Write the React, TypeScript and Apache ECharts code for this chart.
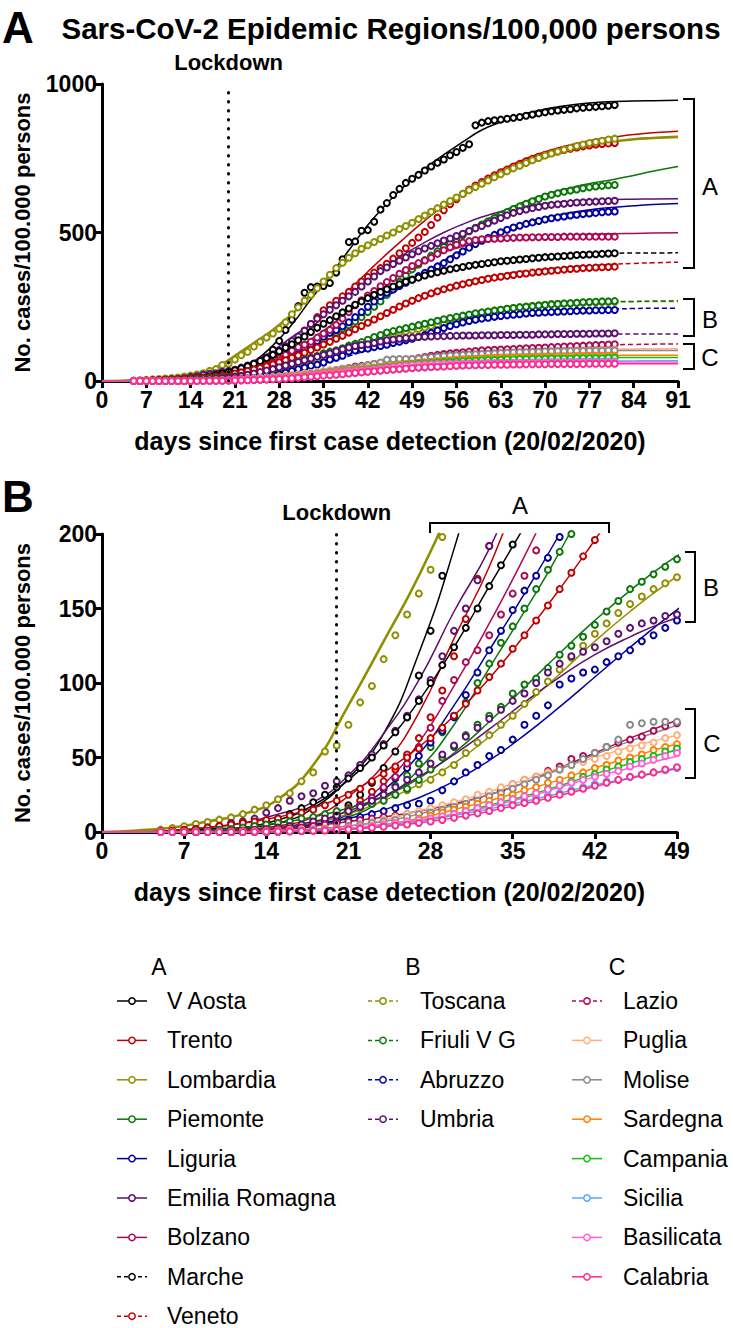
import React, { useEffect, useRef } from "react";
import * as echarts from "echarts";

// ---------- data ----------
const DAYS = [
  5, 6, 7, 8, 9, 10, 11, 12, 13, 14,
  15, 16, 17, 18, 19, 20, 21, 22, 23, 24,
  25, 26, 27, 28, 29, 30, 31, 32, 33, 34,
  35, 36, 37, 38, 39, 40, 41, 42, 43, 44,
  45, 46, 47, 48, 49, 50, 51, 52, 53, 54,
  55, 56, 57, 58, 59, 60, 61, 62, 63, 64,
  65, 66, 67, 68, 69, 70, 71, 72, 73, 74,
  75, 76, 77, 78, 79, 80, 81,
];
const FIT_DAYS = [0, 3, 6, 9, 12, 15, 18, 21, 24, 27, 30, 33, 36, 39, 42, 45, 48, 51, 54, 57, 60, 63, 66, 69, 72, 75, 78, 81, 84, 87, 91];

const X_TICKS_A = { min: 0, max: 91, step: 7 };
const X_TICKS_B = { min: 0, max: 49, step: 7 };
const Y_TICKS_A = { min: 0, max: 1000, step: 500 };
const Y_TICKS_B = { min: 0, max: 200, step: 50 };
const LOCKDOWN_DAY = 20;

const vAostaPts = [0,0,0,0,0,0,0,0,0,0, 0,1,2,4,7,12,18,25,33,43, 54,77,105,135,172,206,252,297,316,318, 320,330,365,410,468,470,506,508,536,577, 599,626,647,667,681,694,709,722,735,746, 760,771,785,797,861,870,875,878,880,883, 886,889,893,897,901,905,908,911,913,915, 918,920,922,923,925,927,929];
const vAostaFit = [0,0,1,2,3,6,16,36,66,120,190,275,355,440,525,598,660,715,762,805,845,872,895,911,923,932,938,941,943,944,945];

const trentoPts = [0,0,0,0,0,0,0,0,0,0, 1,2,3,5,8,12,16,21,27,34, 42,52,63,77,95,118,143,170,192,215, 238,255,270,285,300,318,335,350,365,380, 395,412,430,447,465,483,502,525,550,575, 595,612,630,645,658,670,682,693,703,712, 722,731,740,748,755,762,768,773,778,782, 786,790,793,796,798,800,801];
const trentoFit = [0,0,0,1,2,4,10,24,45,80,130,178,240,305,368,428,485,540,590,635,675,710,740,765,785,800,813,822,830,836,841];

const lombardiaPts = [1.6,2.7,3.8,5.4,6.7,8.3,9.8,12,15,18, 22,26,34,40,54,58,72,87,98,116, 132,146,160,176,198,225,248,270,290,312, 335,358,380,398,415,430,445,457,468,478, 490,500,512,522,533,545,557,570,582,594, 606,618,630,642,653,664,675,686,696,706, 716,725,734,743,751,759,766,773,779,785, 791,796,801,805,809,813,816];
const lombardiaFit = [0,1,3,7,12,22,45,85,128,172,225,290,355,410,455,492,525,560,595,630,662,692,720,745,766,783,797,807,814,818,822];

const piemontePts = [0,0,0,0,0,0,0,0,0,0.5, 1,2,3,5,7,9,12,16,20,25, 31,38,46,57,67,78,87,100,113,127, 138,150,163,176,188,200,215,232,250,268, 290,312,334,355,376,392,407,422,437,451, 465,478,491,504,516,527,538,549,559,569, 579,588,597,605,613,621,627,632,637,641, 645,649,652,655,657,659,660];
const piemonteFit = [0,0,0,0,1,1,4,10,22,42,72,110,148,188,235,292,350,403,452,496,535,568,597,621,640,656,668,679,692,706,722];

const liguriaPts = [0,0,0,0,0,0,0,0,0,0.5, 1,2,3,5,7,10,14,18,23,29, 36,43,51,60,68,77,92,107,122,135, 149,162,172,184,198,215,232,250,268,286, 297,308,320,331,342,353,364,375,386,397, 410,423,436,449,461,472,482,492,501,509, 517,523,529,534,539,544,548,551,554,557, 560,562,564,566,568,570,571];
const liguriaFit = [0,0,0,0,0,1,4,12,28,52,85,122,160,200,243,285,325,365,405,442,475,503,527,545,559,570,579,585,590,594,598];

const emiliaPts = [0,0.5,1,2,3,4,6,7,9,13, 16,21,24,26,31,34,38,45,52,59, 68,78,89,102,118,135,150,169,192,210, 225,240,255,270,285,300,318,335,352,370, 382,394,405,416,427,437,446,455,464,473, 480,488,496,505,514,522,531,540,549,558, 566,572,577,582,586,590,593,595,597,599, 601,602,603,604,605,606,607];
const emiliaFit = [0,0,1,3,6,12,20,38,66,102,148,190,245,298,345,390,430,467,500,528,552,571,585,595,601,606,609,611,612,613,614];

const bolzanoPts = [0,0,0,0,0,0,0,0,0.5,1, 2,3,4,6,8,11,14,18,23,30, 37,46,57,70,88,102,114,122,132,146, 160,172,189,210,232,255,272,288,303,319, 333,347,361,374,387,397,406,415,428,440, 450,459,466,471,475,477,478,479,480,481, 482,483,483,484,484,485,485,485,486,486, 486,486,486,486,486,486,486];
const bolzanoFit = [0,0,0,0,1,2,6,15,32,60,98,140,185,234,285,333,373,406,433,453,467,477,484,488,491,493,495,496,497,498,499];

const marchePts = [0,0,0,0,0.5,1,2,3,5,7, 9,12,16,20,25,30,36,43,50,58, 67,77,88,100,112,124,137,150,165,179, 193,205,218,231,244,257,268,279,290,300, 309,318,326,334,341,348,355,361,366,371, 376,380,384,388,391,394,397,400,403,405, 407,409,411,413,415,417,418,419,421,422, 424,425,426,427,428,429,430];
const marcheFit = [0,0,0,1,3,8,18,35,58,88,124,165,205,245,282,314,340,361,377,390,400,408,414,419,423,426,428,430,431,431,432];

const venetoPts = [0.5,1,1.5,2,3,4,5,6,7,8, 9,11,13,15,18,21,25,29,34,39, 44,50,56,63,70,78,86,95,104,113, 123,132,142,152,163,174,185,196,207,218, 229,240,251,261,270,279,287,295,302,309, 315,321,326,331,336,340,344,348,351,354, 357,360,362,365,367,369,371,373,375,377, 378,380,381,382,383,384,385];
const venetoFit = [0,0,1,3,6,10,16,26,40,57,78,103,132,163,196,230,262,290,313,332,347,359,368,375,381,386,390,393,396,398,400];

const toscanaPts = [0,0,0,0,0,0.3,0.5,1,1.5,2, 3,4,5,7,9,11,13,16,19,22, 25,28,32,35,40,45,53,60,65,72, 78,86,94,101,109,117,125,133,140,147, 153,158,163,167,171,175,180,185,190,195, 200,206,212,218,224,229,233,237,240,243, 246,249,251,253,255,257,259,260,261,262, 263,264,265,265,266,266,267];
const toscanaFit = [0,0,0,0,1,3,6,12,21,32,46,64,85,106,128,148,166,182,197,212,225,236,245,252,257,261,264,266,267,268,268];

const friuliPts = [0,0,0,0.5,1,1.5,2,3,4,5, 6,7,9,10,12,14,15,17,19,21, 25,29,35,42,50,57,65,72,78,84, 93,99,103,110,119,125,131,139,148,155, 163,168,173,178,183,188,193,198,203,208, 212,216,220,224,228,231,234,237,240,243, 246,248,250,252,254,256,258,259,261,262, 263,265,266,267,268,268,269];
const friuliFit = [0,0,0,1,3,6,10,16,24,36,53,74,97,120,142,162,180,195,208,220,230,239,247,253,258,262,265,267,268,269,270];

const abruzzoPts = [0,0,0,0,0,0.2,0.4,0.6,1,1.5, 2,3,4,5,6,7,8,10,12,14, 16,18,19,21,28,34,40,45,51,55, 62,72,78,85,99,103,107,109,114,118, 122,128,132,137,142,148,155,162,170,178, 185,191,197,202,206,210,213,216,219,221, 223,225,227,229,230,231,232,233,234,235, 236,237,237,238,238,239,239];
const abruzzoFit = [0,0,0,0,1,2,5,9,15,23,34,48,65,84,104,124,143,161,178,193,206,217,226,232,237,240,242,243,244,245,245];

const umbriaPts = [0,0,0,0,0,0.2,0.5,1,1.5,2, 3,4,5,7,9,11,14,17,21,25, 30,35,40,46,52,58,64,70,76,82, 88,93,100,107,113,118,121,124,128,133, 137,140,142,145,146,148,149,150,151,151, 152,152,153,153,153,154,154,154,155,155, 155,156,156,156,157,157,157,158,158,158, 159,159,159,160,160,160,161];
const umbriaFit = [0,0,0,0,1,3,7,14,24,37,52,69,87,104,119,131,141,148,152,155,156,157,157,158,158,158,158,158,158,158,158];

const lazioPts = [0.1,0.1,0.1,0.1,0.2,0.3,0.5,0.8,1.2,1.6, 2,2.5,3,4,5,6,7,8,9,10, 11,12,13,14,15,17,20,23,26,28, 32,35,37,41,44,49,51,53,57,60, 62,64,68,71,73,77,81,85,88,91, 93,95,97,99,101,103,104,105,106,107, 108,109,110,111,112,113,114,115,116,117, 118,119,120,121,122,123,124];
const lazioFit = [0,0,0,0,1,2,4,7,10,14,19,25,33,43,53,63,72,81,89,96,102,106,110,113,116,118,120,122,123,124,125];

const pugliaPts = [0,0,0,0,0,0.1,0.2,0.3,0.5,0.7, 1,1.3,1.7,2.1,2.5,3,4,5,6.5,8, 10,12,14,16,18,20,22,25,27,30, 32,35,37,40,42,45,47,49,51,54, 56,58,60,63,65,67,69,72,74,76, 78,80,82,84,86,87,89,90,91,93, 94,95,96,97,98,99,100,101,101,102, 103,103,104,104,105,105,106];
const pugliaFit = [0,0,0,0,0,1,2,4,8,14,20,27,35,43,50,57,63,69,76,82,87,91,95,98,101,103,105,107,108,109,109];

const molisePts = [0,0,0,0,0,0,0,0,0,0, 0.3,0.6,1,1.5,2,3,4,5,6,7, 8,10,12,13,15,17,19,21,24,26, 29,32,35,38,42,45,49,53,57,62, 72,73,74,74,74,76,78,80,82,84, 86,87,88,89,90,91,92,93,94,95, 96,97,97,98,98,99,99,100,100,101, 101,101,102,102,102,103,103];
const moliseFit = [0,0,0,0,0,0.5,2,4,7,12,18,25,33,42,52,61,69,77,84,89,93,96,98,100,101,102,103,103,103,103,103];

const sardegnaPts = [0,0,0,0,0,0,0,0,0.1,0.2, 0.4,0.6,0.9,1.2,1.6,2,2.5,3,4,5, 6,7,9,11,13,15,17,19,21,23, 25,28,30,33,35,38,40,43,45,48, 50,52,55,57,59,61,63,65,67,68, 70,71,73,74,75,76,77,78,79,79, 80,80,81,81,82,82,82,83,83,83, 84,84,84,84,85,85,85];
const sardegnaFit = [0,0,0,0,0,0.5,1,2.5,5,9,15,21,28,35,43,50,57,63,68,73,76,79,81,83,84,85,86,86,87,87,87];

const campaniaPts = [0,0,0,0,0,0,0,0.1,0.2,0.3, 0.4,0.5,0.7,1,1.3,1.7,2.2,2.8,3.5,4.3, 5,6,7,8.5,10,12,14,16,18,20, 22,24,26,29,31,34,37,39,42,44, 47,49,51,54,56,58,59,61,62,64, 65,66,67,68,69,70,71,71,72,73, 73,74,74,75,75,75,76,76,76,76, 77,77,77,77,77,78,78];
const campaniaFit = [0,0,0,0,0,0.4,1,2.3,4.5,7.5,12,18,24,31,39,46,53,59,64,68,71,73,75,76,77,78,78,79,79,79,79];

const siciliaPts = [0,0,0,0,0,0,0,0.1,0.2,0.3, 0.4,0.6,0.8,1,1.3,1.7,2.2,2.8,3.5,4.2, 5,6,7,8,9.5,11,12.5,14,16,17.5, 19,21,23,24.5,26,28,30,32,34,35, 37,38.5,40,41.5,43,44.5,46,47,48.5,50, 51,52,53,54,55,56,57,58,58.5,59, 60,60.5,61,61.5,62,62.5,63,63,63.5,64, 64,64.5,65,65,65,65.5,66];
const siciliaFit = [0,0,0,0,0,0.4,1,2,4,7,11,15.5,20.5,26,31.5,36.5,41.5,46,50,53.5,56.5,59,61,62.5,64,65,66,67,67.5,68,68];

const basilicataPts = [0,0,0,0,0,0,0,0,0,0.2, 0.3,0.5,0.7,1,1.4,2,2.6,3.3,4,5, 6,7,8,9,10.5,12,14,16,18,20, 22,24,26,28.5,31,33,35,37,39,41, 44,46,48.5,51,53,54,55,56,57,57.5, 58,58.5,59,59.5,60,60,60.5,60.5,61,61, 61,61.5,61.5,62,62,62,62,62.5,62.5,62.5, 63,63,63,63,63,63,63];
const basilicataFit = [0,0,0,0,0,0.3,1,2.6,5,8,12,17,23,30,37,43,49,54,57,59.5,61,62,62.5,63,63.5,63.5,64,64,64,64,64];

const calabriaPts = [0,0,0,0,0,0,0,0,0.1,0.2, 0.3,0.4,0.6,0.8,1,1.3,1.7,2.2,2.8,3.5, 4.3,5,6,7,8,9.5,11,12.5,14,16, 18,19.5,21,23,25,27,29,31,33,35, 37,38.5,40,42,43.5,45,46,47,48,49, 50,51,52,52.5,53,53.5,54,54.5,55,55, 55.5,55.5,56,56,56.5,56.5,57,57,57,57.5, 57.5,57.5,58,58,58,58,58];
const calabriaFit = [0,0,0,0,0,0.3,0.8,1.8,3.5,6,9.5,14,19,24.5,30.5,36,41,45.5,49,52,54,55.5,56.5,57,57.5,58,58,58,58,58,58];

const REGIONS = [
  { name: "V Aosta", group: "A", color: "#000000", dashed: false, pts: vAostaPts, fit: vAostaFit },
  { name: "Trento", group: "A", color: "#c00000", dashed: false, pts: trentoPts, fit: trentoFit },
  { name: "Lombardia", group: "A", color: "#8f8f00", dashed: false, pts: lombardiaPts, fit: lombardiaFit },
  { name: "Piemonte", group: "A", color: "#0a770a", dashed: false, pts: piemontePts, fit: piemonteFit },
  { name: "Liguria", group: "A", color: "#0000a0", dashed: false, pts: liguriaPts, fit: liguriaFit },
  { name: "Emilia Romagna", group: "A", color: "#5c1070", dashed: false, pts: emiliaPts, fit: emiliaFit },
  { name: "Bolzano", group: "A", color: "#ad0a55", dashed: false, pts: bolzanoPts, fit: bolzanoFit },
  { name: "Marche", group: "A", color: "#000000", dashed: true, pts: marchePts, fit: marcheFit },
  { name: "Veneto", group: "A", color: "#c00000", dashed: true, pts: venetoPts, fit: venetoFit },
  { name: "Toscana", group: "B", color: "#8f8f00", dashed: true, pts: toscanaPts, fit: toscanaFit },
  { name: "Friuli V G", group: "B", color: "#0a770a", dashed: true, pts: friuliPts, fit: friuliFit },
  { name: "Abruzzo", group: "B", color: "#0000a0", dashed: true, pts: abruzzoPts, fit: abruzzoFit },
  { name: "Umbria", group: "B", color: "#5c1070", dashed: true, pts: umbriaPts, fit: umbriaFit },
  { name: "Lazio", group: "C", color: "#ad0a55", dashed: true, pts: lazioPts, fit: lazioFit },
  { name: "Puglia", group: "C", color: "#ffb07a", dashed: false, pts: pugliaPts, fit: pugliaFit },
  { name: "Molise", group: "C", color: "#8a8a8a", dashed: false, pts: molisePts, fit: moliseFit },
  { name: "Sardegna", group: "C", color: "#ff7f00", dashed: false, pts: sardegnaPts, fit: sardegnaFit },
  { name: "Campania", group: "C", color: "#10c010", dashed: false, pts: campaniaPts, fit: campaniaFit },
  { name: "Sicilia", group: "C", color: "#59a9ff", dashed: false, pts: siciliaPts, fit: siciliaFit },
  { name: "Basilicata", group: "C", color: "#ff5fd9", dashed: false, pts: basilicataPts, fit: basilicataFit },
  { name: "Calabria", group: "C", color: "#ff2a8e", dashed: false, pts: calabriaPts, fit: calabriaFit },
];

// ---------- styling ----------
const CF = "'Liberation Sans Narrow','Arial Narrow','Liberation Sans',Arial,sans-serif";
const RF = "'Liberation Sans',Arial,Helvetica,sans-serif";

function axisCommon() {
  return {
    axisLine: { show: true, onZero: false, lineStyle: { color: "#000", width: 3 } },
    axisTick: { show: true, length: 7, lineStyle: { color: "#000", width: 3 } },
    splitLine: { show: false },
    axisLabel: { color: "#000", fontSize: 23, fontWeight: "bold", fontFamily: CF, formatter: (v: number) => String(v) },
  };
}
const X_NAME_STYLE = { color: "#000", fontSize: 25, fontWeight: "bold", fontFamily: CF };
const Y_NAME_STYLE = { color: "#000", fontSize: 22, fontWeight: "bold", fontFamily: CF };

function buildOption() {
  const series: any[] = [];
  REGIONS.forEach((r, idx) => {
    const fitData = FIT_DAYS.map((d, i) => [d, r.fit[i]]);
    [0, 1].forEach((g) => {
      const s: any = {
        type: "line",
        name: r.name,
        xAxisIndex: g,
        yAxisIndex: g,
        data: fitData,
        showSymbol: false,
        symbol: "none",
        smooth: 0.5,
        clip: true,
        silent: true,
        z: 2,
        lineStyle: {
          color: r.color,
          width: r.name === "Lombardia" ? 2.6 : 1.5,
          type: g === 0 && r.dashed ? [5, 3] : "solid",
        },
      };
      if (idx === 0) {
        s.markLine = {
          silent: true,
          symbol: ["none", "none"],
          data: [{ xAxis: LOCKDOWN_DAY }],
          lineStyle: { color: "#000", width: 3, type: [0.5, 8.5], cap: "round" },
          label: {
            show: true,
            position: "end",
            formatter: "Lockdown",
            color: "#000",
            fontSize: 22,
            fontWeight: "bold",
            fontFamily: CF,
            distance: 11,
          },
        };
      }
      series.push(s);
    });
  });
  REGIONS.forEach((r) => {
    const ptData = DAYS.map((d, i) => [d, r.pts[i]]);
    [0, 1].forEach((g) => {
      series.push({
        type: "scatter",
        name: r.name + " data",
        xAxisIndex: g,
        yAxisIndex: g,
        data: ptData,
        symbol: "circle",
        symbolSize: 6,
        clip: true,
        silent: true,
        z: 3,
        itemStyle: { color: "#ffffff", borderColor: r.color, borderWidth: 2, opacity: 1 },
      });
    });
  });

  const graphic: any[] = [];
  const txt = (text: string, x: number, y: number, size: number, weight: string, family: string, align = "center") => ({
    type: "text",
    x,
    y,
    silent: true,
    style: {
      text,
      fill: "#000",
      fontSize: size,
      fontWeight: weight,
      fontFamily: family,
      align,
      verticalAlign: "middle",
      textAlign: align,
      textVerticalAlign: "middle",
    },
  });
  graphic.push(txt("A", 18, 27, 44, "bold", RF));
  graphic.push(txt("B", 18, 496, 44, "bold", RF));
  graphic.push(txt("Sars-CoV-2 Epidemic Regions/100,000 persons", 391, 28, 29.5, "bold", CF));

  const bracket = (pts: number[][]) => ({
    type: "polyline",
    silent: true,
    shape: { points: pts },
    style: { stroke: "#000", lineWidth: 2, fill: null },
  });
  // panel A brackets
  graphic.push(bracket([[683, 99], [694, 99], [694, 268], [683, 268]]));
  graphic.push(txt("A", 710, 186, 24, "normal", RF));
  graphic.push(bracket([[683, 299], [694, 299], [694, 336], [683, 336]]));
  graphic.push(txt("B", 710, 319, 24, "normal", RF));
  graphic.push(bracket([[683, 344], [694, 344], [694, 369], [683, 369]]));
  graphic.push(txt("C", 710, 357, 24, "normal", RF));
  // panel B brackets
  graphic.push(bracket([[430, 533], [430, 523], [609, 523], [609, 533]]));
  graphic.push(txt("A", 520, 505, 24, "normal", RF));
  graphic.push(bracket([[685, 552], [695, 552], [695, 622], [685, 622]]));
  graphic.push(txt("B", 711, 587, 24, "normal", RF));
  graphic.push(bracket([[685, 709], [695, 709], [695, 778], [685, 778]]));
  graphic.push(txt("C", 712, 743, 24, "normal", RF));

  // legend
  const cols: Record<string, { sym: number; text: number; head: number }> = {
    A: { sym: 117, text: 167, head: 159 },
    B: { sym: 368, text: 420, head: 413 },
    C: { sym: 572, text: 623, head: 617 },
  };
  (["A", "B", "C"] as const).forEach((g) => {
    const c = cols[g];
    graphic.push(txt(g, c.head, 967, 23, "normal", RF));
    REGIONS.filter((r) => r.group === g).forEach((r, i) => {
      const y = 1001 + 39.4 * i;
      graphic.push({
        type: "line",
        silent: true,
        shape: { x1: c.sym, y1: y, x2: c.sym + 30, y2: y },
        style: { stroke: r.color, lineWidth: 1.5, lineDash: r.dashed ? [4, 3] : null },
      });
      graphic.push({
        type: "circle",
        silent: true,
        shape: { cx: c.sym + 15, cy: y, r: 3.2 },
        style: { fill: "#fff", stroke: r.color, lineWidth: 1.5 },
      });
      graphic.push(txt(r.name, c.text, y, 23, "normal", RF, "left"));
    });
  });

  const ax = axisCommon();
  return {
    animation: false,
    backgroundColor: "#ffffff",
    grid: [
      { left: 102, top: 84, width: 576, height: 297 },
      { left: 102, top: 534, width: 575, height: 298 },
    ],
    xAxis: [
      {
        type: "value", gridIndex: 0, min: X_TICKS_A.min, max: X_TICKS_A.max, interval: X_TICKS_A.step,
        ...ax, axisLabel: { ...ax.axisLabel, margin: 7 },
        name: "days since first case detection (20/02/2020)", nameLocation: "middle", nameGap: 47, nameTextStyle: X_NAME_STYLE,
      },
      {
        type: "value", gridIndex: 1, min: X_TICKS_B.min, max: X_TICKS_B.max, interval: X_TICKS_B.step,
        ...ax, axisLabel: { ...ax.axisLabel, margin: 7 },
        name: "days since first case detection (20/02/2020)", nameLocation: "middle", nameGap: 47, nameTextStyle: X_NAME_STYLE,
      },
    ],
    yAxis: [
      {
        type: "value", gridIndex: 0, min: Y_TICKS_A.min, max: Y_TICKS_A.max, interval: Y_TICKS_A.step,
        ...ax, axisLabel: { ...ax.axisLabel, margin: 5 },
        name: "No. cases/100.000 persons", nameLocation: "middle", nameGap: 69, nameTextStyle: Y_NAME_STYLE,
      },
      {
        type: "value", gridIndex: 1, min: Y_TICKS_B.min, max: Y_TICKS_B.max, interval: Y_TICKS_B.step,
        ...ax, axisLabel: { ...ax.axisLabel, margin: 5 },
        name: "No. cases/100.000 persons", nameLocation: "middle", nameGap: 69, nameTextStyle: Y_NAME_STYLE,
      },
    ],
    series,
    graphic,
  };
}

export default function App() {
  const ref = useRef<HTMLDivElement>(null);
  useEffect(() => {
    if (!ref.current) return;
    const chart = echarts.init(ref.current, null, { renderer: "svg" });
    chart.setOption(buildOption() as any);
    return () => chart.dispose();
  }, []);
  return (
    <div
      ref={ref}
      style={{ position: "absolute", left: 0, top: 0, width: 733, height: 1328, background: "#fff" }}
    />
  );
}
